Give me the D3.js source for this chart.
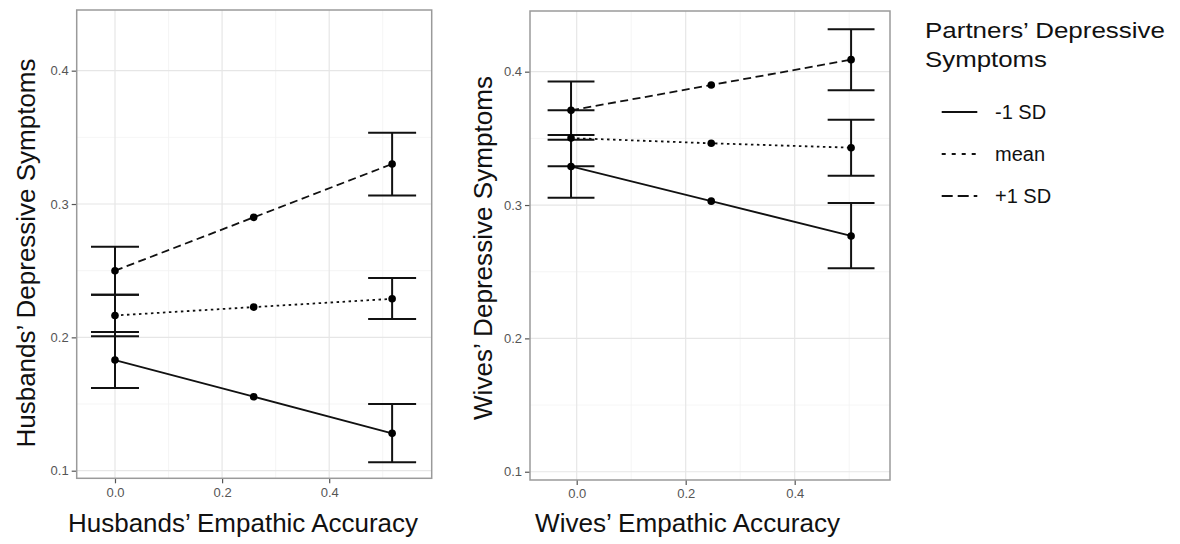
<!DOCTYPE html>
<html><head><meta charset="utf-8">
<script src="https://cdn.jsdelivr.net/npm/d3@7/dist/d3.min.js"></script>
<style>
body{margin:0;background:#fff;}
svg{display:block;font-family:"Liberation Sans",Arial,Helvetica,sans-serif;}
</style></head>
<body>
<svg id="chart" width="1180" height="544"></svg>
<script>
// ---------- data ----------
const seriesNames = ["-1 SD", "mean", "+1 SD"];
const yTicks = [0.1, 0.2, 0.3, 0.4];
const xTicks = [0.0, 0.2, 0.4];

// Husbands panel
const husX = [0, 0.259, 0.5175];
const husLow  = [0.183, 0.1555, 0.128];
const husMean = [0.2164, 0.2227, 0.2289];
const husHigh = [0.250, 0.290, 0.330];
const husLowErr  = [[0.162, 0.204], null, [0.1063, 0.150]];
const husMeanErr = [[0.2008, 0.232], null, [0.2138, 0.2445]];
const husHighErr = [[0.232, 0.268], null, [0.3063, 0.3534]];

// Wives panel
const wifX = [-0.0104, 0.2469, 0.5035];
const wifLow  = [0.3289, 0.3029, 0.2768];
const wifMean = [0.3502, 0.3463, 0.343];
const wifHigh = [0.371, 0.390, 0.409];
const wifLowErr  = [[0.3055, 0.3525], null, [0.2526, 0.3016]];
const wifMeanErr = [[0.329, 0.371], null, [0.322, 0.364]];
const wifHighErr = [[0.349, 0.3927], null, [0.386, 0.4318]];

const dashStyles = {"-1 SD": null, "mean": "2.5,3.5", "+1 SD": "8,4.5"};
const legendDash = {"-1 SD": null, "mean": "4,6", "+1 SD": "11,5"};

const svg = d3.select("#chart");

function panel(cfg) {
  const x = d3.scaleLinear().domain(cfg.xDomain).range([cfg.left, cfg.right]);
  const y = d3.scaleLinear().domain(cfg.yDomain).range([cfg.bottom, cfg.top]);
  const g = svg.append("g");

  // minor grid
  const xMinor = [0.1, 0.3, 0.5].filter(v => v > cfg.xDomain[0] && v < cfg.xDomain[1]);
  const yMinor = [0.15, 0.25, 0.35];
  g.selectAll(".xmin").data(xMinor).join("line")
    .attr("x1", d => x(d)).attr("x2", d => x(d)).attr("y1", cfg.top).attr("y2", cfg.bottom)
    .attr("stroke", "#f2f2f2").attr("stroke-width", 0.8);
  g.selectAll(".ymin").data(yMinor).join("line")
    .attr("y1", d => y(d)).attr("y2", d => y(d)).attr("x1", cfg.left).attr("x2", cfg.right)
    .attr("stroke", "#f2f2f2").attr("stroke-width", 0.8);
  // major grid
  g.selectAll(".xmaj").data(xTicks).join("line")
    .attr("x1", d => x(d)).attr("x2", d => x(d)).attr("y1", cfg.top).attr("y2", cfg.bottom)
    .attr("stroke", "#e6e6e6").attr("stroke-width", 1.2);
  g.selectAll(".ymaj").data(yTicks).join("line")
    .attr("y1", d => y(d)).attr("y2", d => y(d)).attr("x1", cfg.left).attr("x2", cfg.right)
    .attr("stroke", "#e6e6e6").attr("stroke-width", 1.2);

  // axes
  const ax = g.append("g").attr("transform", `translate(0,${cfg.bottom})`)
    .call(d3.axisBottom(x).tickValues(xTicks).tickFormat(d3.format(".1f")).tickSize(5).tickPadding(4));
  const ay = g.append("g").attr("transform", `translate(${cfg.left},0)`)
    .call(d3.axisLeft(y).tickValues(yTicks).tickFormat(d3.format(".1f")).tickSize(5).tickPadding(3));
  [ax, ay].forEach(a => {
    a.attr("font-size", 13).attr("font-family", "'Liberation Sans',Arial,sans-serif");
    a.select(".domain").remove();
    a.selectAll(".tick line").attr("stroke", "#555").attr("stroke-width", 1.2);
    a.selectAll(".tick text").attr("fill", "#555").attr("font-size", 13).style("font-size", "13px");
  });

  // border
  g.append("rect").attr("x", cfg.left).attr("y", cfg.top)
    .attr("width", cfg.right - cfg.left).attr("height", cfg.bottom - cfg.top)
    .attr("fill", "none").attr("stroke", "#9a9a9a").attr("stroke-width", 1.5);

  // series
  const series = [
    {name: "-1 SD", vals: cfg.low, err: cfg.lowErr},
    {name: "mean", vals: cfg.mean, err: cfg.meanErr},
    {name: "+1 SD", vals: cfg.high, err: cfg.highErr}
  ];
  const line = d3.line().x(d => x(d[0])).y(d => y(d[1]));
  series.forEach(s => {
    const pts = cfg.xs.map((xv, i) => [xv, s.vals[i]]);
    g.append("path").attr("d", line(pts)).attr("fill", "none")
      .attr("stroke", "#111").attr("stroke-width", 1.8)
      .attr("stroke-dasharray", dashStyles[s.name]);
  });
  series.forEach(s => {
    cfg.xs.forEach((xv, i) => {
      const e = s.err[i];
      if (!e) return;
      const x0 = x(xv - cfg.capHalf), x1 = x(xv + cfg.capHalf);
      g.append("line").attr("x1", x(xv)).attr("x2", x(xv)).attr("y1", y(e[0])).attr("y2", y(e[1]))
        .attr("stroke", "#111").attr("stroke-width", 2);
      e.forEach(v => g.append("line").attr("x1", x0).attr("x2", x1).attr("y1", y(v)).attr("y2", y(v))
        .attr("stroke", "#111").attr("stroke-width", 2));
    });
  });
  series.forEach(s => {
    g.selectAll(null).data(cfg.xs.map((xv, i) => [xv, s.vals[i]])).join("circle")
      .attr("cx", d => x(d[0])).attr("cy", d => y(d[1])).attr("r", 3.8).attr("fill", "#000");
  });

  // titles
  g.append("text").attr("x", cfg.xTitleX).attr("y", 532).attr("text-anchor", "middle")
    .style("font-size", "26px").attr("fill", "#111")
    .attr("textLength", cfg.xTitleLen).attr("lengthAdjust", "spacingAndGlyphs")
    .text(cfg.xTitle);
  g.append("text").attr("transform", `translate(${cfg.yTitleX},${cfg.yTitleY}) rotate(-90)`)
    .attr("text-anchor", "middle").attr("dominant-baseline", "central")
    .style("font-size", "26px").attr("fill", "#111")
    .attr("textLength", cfg.yTitleLen).attr("lengthAdjust", "spacingAndGlyphs")
    .text(cfg.yTitle);
}

panel({
  left: 76.7, right: 431.7, top: 10, bottom: 478.3,
  xDomain: [-0.0715, 0.5914], yDomain: [0.0943, 0.4455],
  xs: husX, low: husLow, mean: husMean, high: husHigh,
  lowErr: husLowErr, meanErr: husMeanErr, highErr: husHighErr, capHalf: 0.0448,
  xTitle: "Husbands\u2019 Empathic Accuracy", xTitleX: 243, xTitleLen: 350,
  yTitle: "Husbands\u2019 Depressive Symptoms", yTitleX: 26, yTitleY: 253, yTitleLen: 389
});
panel({
  left: 530, right: 890, top: 11, bottom: 480,
  xDomain: [-0.0857, 0.5749], yDomain: [0.0938, 0.4455],
  xs: wifX, low: wifLow, mean: wifMean, high: wifHigh,
  lowErr: wifLowErr, meanErr: wifMeanErr, highErr: wifHighErr, capHalf: 0.043,
  xTitle: "Wives\u2019 Empathic Accuracy", xTitleX: 687.5, xTitleLen: 305,
  yTitle: "Wives\u2019 Depressive Symptoms", yTitleX: 482.5, yTitleY: 248, yTitleLen: 344
});

// legend
const lg = svg.append("g");
lg.append("text").attr("x", 925).attr("y", 38.3).style("font-size", "22px").attr("fill", "#111")
  .attr("textLength", 240).attr("lengthAdjust", "spacingAndGlyphs").text("Partners\u2019 Depressive");
lg.append("text").attr("x", 925).attr("y", 66.7).style("font-size", "22px").attr("fill", "#111")
  .attr("textLength", 122).attr("lengthAdjust", "spacingAndGlyphs").text("Symptoms");
const legY = d3.scalePoint().domain(seriesNames).range([112, 196]);
seriesNames.forEach(n => {
  lg.append("line").attr("x1", 941.7).attr("x2", 977.3).attr("y1", legY(n)).attr("y2", legY(n))
    .attr("stroke", "#111").attr("stroke-width", 2).attr("stroke-dasharray", legendDash[n]);
  lg.append("text").attr("x", 995).attr("y", legY(n)).attr("dominant-baseline", "central")
    .style("font-size", "20px").attr("fill", "#111").text(n);
});
</script>
</body></html>
